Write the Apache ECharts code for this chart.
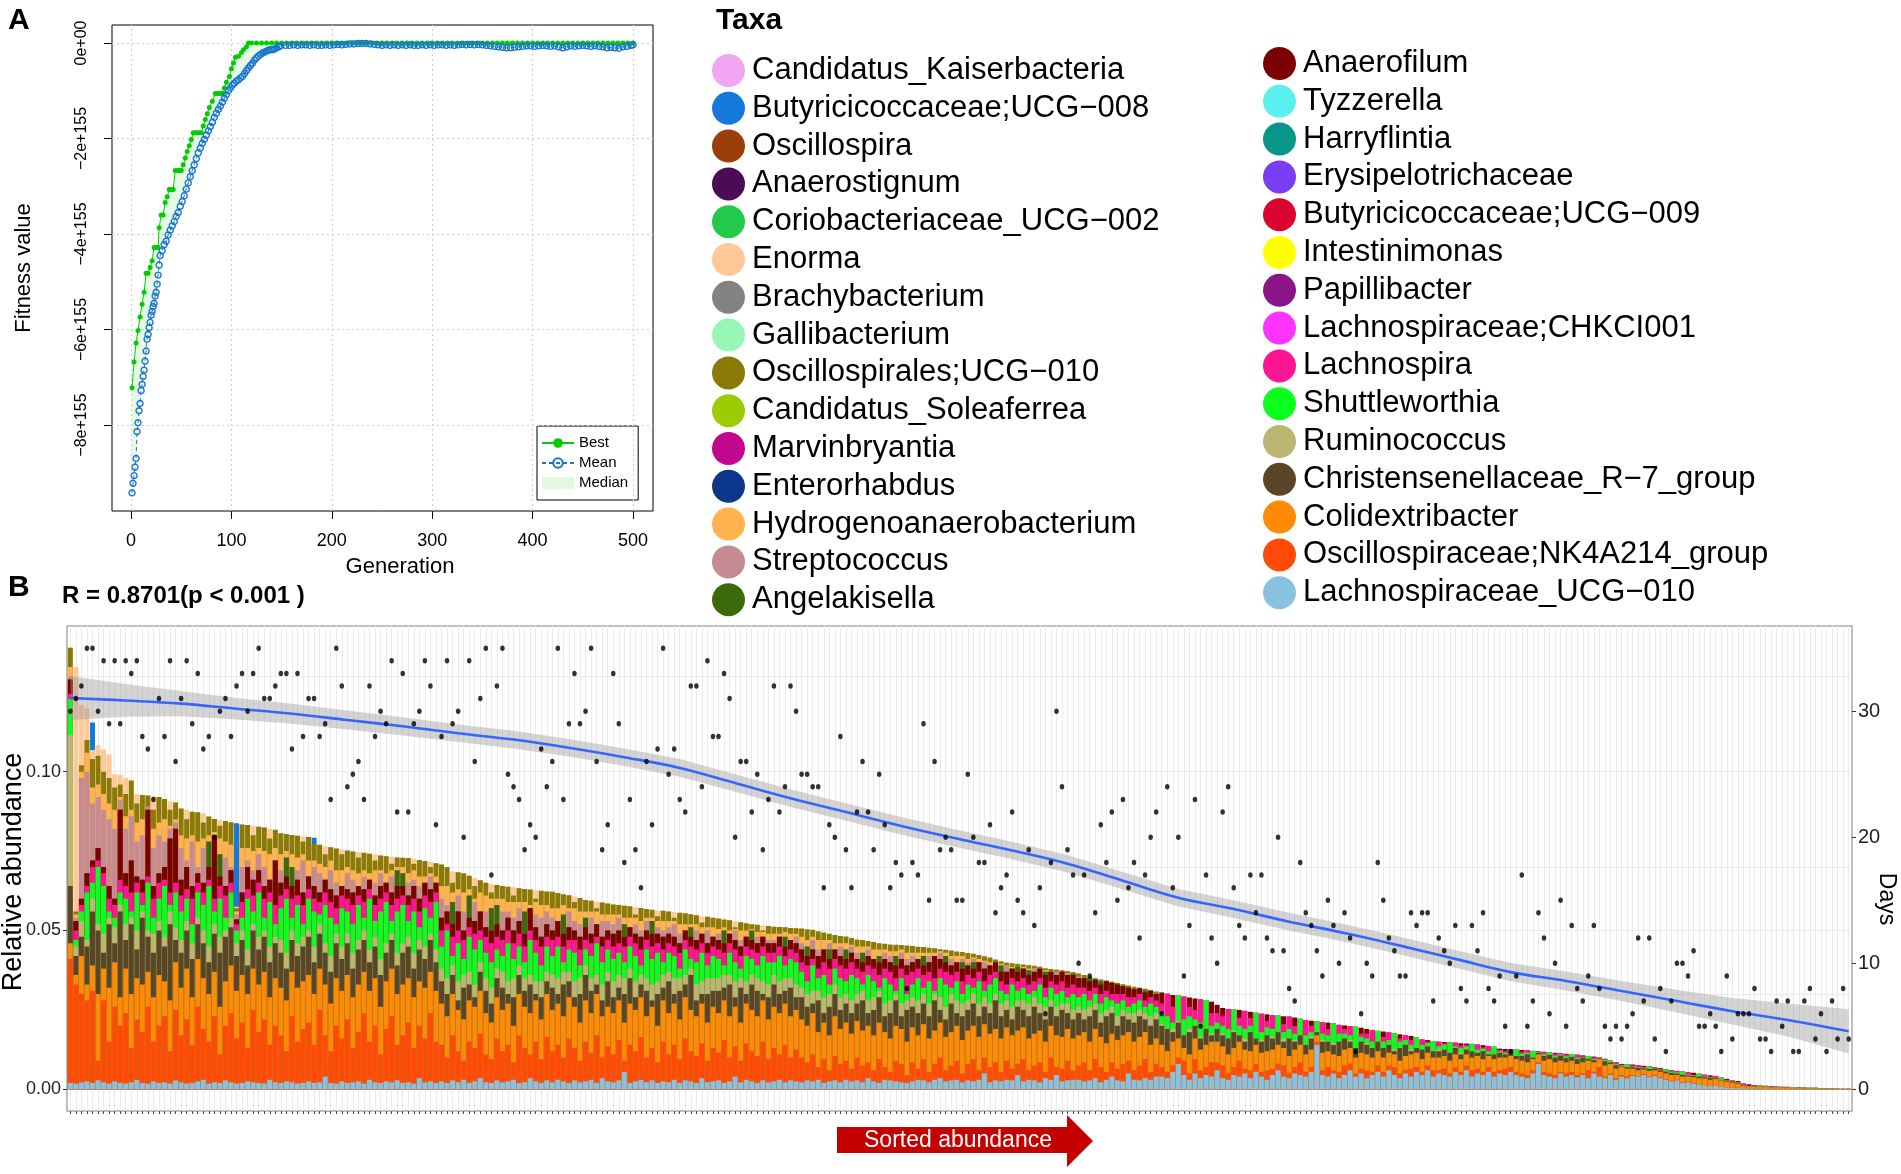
<!DOCTYPE html>
<html>
<head>
<meta charset="utf-8">
<title>GA fitness and sorted abundance</title>
<script src="https://cdn.jsdelivr.net/npm/echarts@6/dist/echarts.min.js"></script>
<style>
html, body { margin: 0; padding: 0; background: #fff; }
#main { width: 1901px; height: 1174px; }
</style>
</head>
<body>
<div id="main"></div>
<script>
// ---------- panel A: GA run (values in units of 1e155) ----------
var xTicksA = [0, 100, 200, 300, 400, 500];
var yTicksA = [0, -2, -4, -6, -8];

var bestPts = [
  [1,-7.22],[3,-6.68],[5,-6.28],[7,-6.02],[9,-5.74],[11,-5.47],[13,-5.22],[15,-4.82],[17,-4.82],[19,-4.70],
  [21,-4.56],[23,-4.28],[25,-4.28],[27,-4.28],[28,-3.87],[30,-3.60],[32,-3.60],[34,-3.34],[36,-3.22],[38,-3.07],
  [40,-3.07],[42,-3.07],[44,-2.67],[46,-2.67],[48,-2.67],[50,-2.67],[52,-2.55],[54,-2.41],[56,-2.27],[58,-2.15],
  [60,-2.02],[62,-1.88],[64,-1.88],[66,-1.88],[68,-1.88],[70,-1.88],[72,-1.74],[74,-1.60],[76,-1.48],[78,-1.35],
  [81,-1.22],[84,-1.06],[86,-1.06],[88,-1.06],[90,-1.06],[92,-1.06],[93,-0.94],[95,-0.82],[98,-0.70],[100,-0.54],
  [102,-0.42],[104,-0.30],[107,-0.28],[110,-0.20],[112,-0.14],[115,-0.08],[117,0],
  [120,0],[125,0],[130,0],[135,0],[140,0],[145,0],[150,0],[155,0],[160,0],[165,0],[170,0],[175,0],[180,0],
  [185,0],[190,0],[195,0],[200,0],[205,0],[210,0],[215,0],[220,0],[225,0],[230,0],[235,0],[240,0],[245,0],
  [250,0],[255,0],[260,0],[265,0],[270,0],[275,0],[280,0],[285,0],[290,0],[295,0],[300,0],[305,0],[310,0],
  [315,0],[320,0],[325,0],[330,0],[335,0],[340,0],[345,0],[350,0],[355,0],[360,0],[365,0],[370,0],[375,0],
  [380,0],[385,0],[390,0],[395,0],[400,0],[405,0],[410,0],[415,0],[420,0],[425,0],[430,0],[435,0],[440,0],
  [445,0],[450,0],[455,0],[460,0],[465,0],[470,0],[475,0],[480,0],[485,0],[490,0],[495,0],[500,0]
];

var meanPts = [
  [1,-9.42],[2,-9.22],[3,-9.06],[4,-8.88],[5,-8.70],[6,-8.14],[7,-7.95],[8,-7.70],[9,-7.55],[10,-7.28],
  [11,-7.15],[12,-6.98],[13,-6.85],[14,-6.66],[15,-6.45],[16,-6.20],[17,-6.10],[18,-5.96],[19,-5.85],[20,-5.70],
  [21,-5.62],[22,-5.52],[23,-5.45],[24,-5.30],[25,-5.22],[26,-5.05],[27,-4.86],[28,-4.65],[29,-4.45],
  [31,-4.35],[33,-4.22],[35,-4.15],[37,-4.02],[39,-3.92],[41,-3.83],[43,-3.74],[45,-3.63],[47,-3.55],[49,-3.42],
  [51,-3.32],[53,-3.20],[55,-3.06],[57,-2.93],[59,-2.80],[61,-2.67],[63,-2.55],[65,-2.42],[67,-2.30],[69,-2.20],
  [71,-2.10],[73,-2.02],[75,-1.93],[77,-1.84],[79,-1.75],[81,-1.66],[83,-1.56],[85,-1.47],[87,-1.39],[89,-1.32],
  [91,-1.24],[93,-1.16],[95,-1.08],[97,-1.00],[99,-0.94],[101,-0.88],[103,-0.84],[105,-0.80],[107,-0.77],[109,-0.73],
  [111,-0.70],[113,-0.64],[115,-0.58],[117,-0.52],[119,-0.47],[121,-0.42],[123,-0.36],[125,-0.31],[127,-0.27],[129,-0.24],
  [131,-0.21],[133,-0.19],[135,-0.17],[137,-0.15],[139,-0.14],[141,-0.14],[143,-0.13],[145,-0.10],[147,-0.08],[149,-0.06],
  [154,-0.05],[158,-0.05],[162,-0.04],[166,-0.05],[170,-0.04],[174,-0.04],[178,-0.05],[182,-0.04],[186,-0.05],[190,-0.05],
  [194,-0.04],[198,-0.05],[202,-0.04],[206,-0.03],[210,-0.04],[214,-0.03],[218,-0.02],[222,-0.02],[226,-0.01],[230,-0.01],
  [234,-0.01],[238,-0.02],[242,-0.03],[246,-0.04],[250,-0.05],[254,-0.04],[258,-0.05],[262,-0.04],[266,-0.05],[270,-0.04],
  [274,-0.05],[278,-0.04],[282,-0.05],[286,-0.05],[290,-0.04],[294,-0.05],[298,-0.04],[302,-0.05],[306,-0.04],[310,-0.04],
  [314,-0.05],[318,-0.04],[322,-0.05],[326,-0.04],[330,-0.03],[334,-0.04],[338,-0.03],[342,-0.04],[346,-0.03],[350,-0.04],
  [354,-0.05],[358,-0.06],[362,-0.07],[366,-0.08],[370,-0.09],[374,-0.10],[378,-0.10],[382,-0.09],[386,-0.08],[390,-0.07],
  [394,-0.06],[398,-0.06],[402,-0.07],[406,-0.06],[410,-0.05],[414,-0.06],[418,-0.07],[422,-0.06],[426,-0.08],[430,-0.10],
  [434,-0.08],[438,-0.06],[442,-0.07],[446,-0.06],[450,-0.05],[454,-0.06],[458,-0.07],[462,-0.06],[466,-0.07],[470,-0.08],
  [474,-0.10],[478,-0.09],[482,-0.10],[486,-0.11],[490,-0.08],[494,-0.07],[498,-0.05],[500,-0.04]
];

// ---------- panel B: samples sorted by abundance ----------
// sampling day of each sample (one point per bar)
var days = [
  30,31,32,35,35,30,34,29,34,29, 34,33,34,28,27,23,31,28,34,26, 31,34,29,33,27,28,20,30,31,28,
  32,33,30,33,35,31,31,32,33,33, 27,33,28,31,31,28,29,23,35,32, 24,25,26,23,32,28,30,29,34,22,
  33,22,29,30,34,32,21,28,34,29, 30,20,34,26,31,35,17,32,35,25, 24,23,19,21,20,27,24,26,35,23,
  29,33,29,30,35,26,19,21,33,29, 18,23,19,16,26,21,27,35,25,27, 23,22,32,32,24,34,28,28,33,31,
  20,26,26,22,25,19,23,32,22,24, 32,30,25,25,24,24,16,21,20,28, 19,16,22,26,22,19,25,21,16,18,
  17,8,18,17,29,15,26,19,20,19, 15,15,25,20,18,18,21,14,16,17, 22,15,14,19,13,16,6,18,30,24,
  19,17,10,17,9,14,21,18,22,15, 23,16,18,12,17,20,22,6,24,16, 20,9,13,23,5,17,12,10,22,24,
  16,13,12,17,14,17,12,11,20,11, 8,7,18,14,13,11,9,15,13,10, 14,12,3,6,10,9,18,15,12,11,
  9,9,14,13,14,14,7,12,11,10, 13,8,7,13,11,14,8,7,9,5, 3,9,17,5,7,14,12,6,10,15,
  5,13,8,7,9,13,8,5,4,5, 4,5,6,12,7,12,4,8,3,7, 10,10,9,11,5,5,6,5,3,9,
  4,6,6,6,8,4,4,3,7,5, 7,3,3,7,8,4,6,3,7,4, 8,4
];

// LOESS trend of days and its confidence band, read at every 10th bar
var smoothIdx = [0,10,20,30,40,50,60,70,80,90,100,110,120,130,140,150,160,170,180,190,200,210,220,230,240,250,260,270,280,290,300,310,321];
var smoothDays = [31.05,30.85,30.6,30.2,29.8,29.3,28.8,28.25,27.75,27.1,26.35,25.5,24.3,23.1,22.0,20.9,19.9,18.95,17.9,16.55,15.2,14.3,13.3,12.4,11.4,10.35,9.3,8.6,7.8,7.0,6.2,5.5,4.6];
var bandLo = [29.3,29.55,29.6,29.35,29.0,28.55,28.08,27.55,27.05,26.4,25.65,24.8,23.6,22.4,21.3,20.2,19.2,18.25,17.2,15.85,14.5,13.6,12.6,11.7,10.7,9.65,8.58,7.85,7.0,6.1,5.15,4.2,2.85];
var bandHi = [32.8,32.15,31.6,31.05,30.6,30.05,29.52,28.95,28.45,27.8,27.05,26.2,25.0,23.8,22.7,21.6,20.6,19.65,18.6,17.25,15.9,15.0,14.0,13.1,12.1,11.05,10.02,9.35,8.6,7.9,7.25,6.8,6.35];

// relative abundance, 1e-4 units: cumulative top of each taxon layer (bottom -> top)
var blueTop = [
  20,18,22,25,20,28,22,18,25,20, 18,22,30,20,18,25,20,22,18,28, 22,18,20,25,30,18,22,20,28,22,
  18,20,25,22,20,18,30,22,20,25, 22,18,20,25,20,22,40,20,18,25, 20,22,25,18,30,22,20,25,22,28,
  20,22,18,35,22,25,20,25,20,28, 22,30,20,25,35,22,20,28,22,25, 30,20,22,35,25,20,28,22,30,25,
  20,28,22,25,30,20,35,25,22,28, 55,20,25,30,22,28,20,25,22,30, 20,28,25,20,35,22,25,28,20,25,
  40,22,30,25,20,28,22,25,30,22, 28,25,22,28,25,30,20,25,28,22, 30,25,28,22,35,25,20,30,28,25,
  22,20,25,30,28,22,30,35,25,28, 30,22,28,25,30,50,22,28,25,30, 28,45,25,30,28,22,35,30,45,25,
  28,30,30,25,28,35,22,30,40,28, 25,50,30,28,35,30,40,40,35,55, 80,45,30,50,35,45,40,60,35,30,
  45,40,50,35,55,40,30,45,60,40, 35,50,45,40,55,140,45,40,50,35, 45,60,40,50,35,45,55,40,60,45,
  35,50,40,55,45,60,40,50,45,40, 55,45,60,40,50,45,55,40,50,45, 55,45,40,35,50,80,45,40,35,50,
  40,45,38,45,35,50,40,35,45,30, 40,35,42,40,45,38,42,35,30,25, 28,20,22,18,15,12,10,12,8,6,
  5,4,3,3,2,2,2,1,1,1, 1,1,1,1,1,1,0,0,0,0, 0,0
];
var nkTop = [
  410,330,300,280,310,90,280,150,260,200, 240,130,220,180,260,150,200,230,120,250, 170,220,140,260,190,150,230,110,200,240,
  160,210,130,250,180,220,140,200,170,120, 230,150,190,210,140,250,170,120,200,160, 220,130,180,240,150,200,110,190,230,140,
  170,210,130,200,160,240,150,140,100,170, 120,90,150,130,175,110,95,160,120,140, 85,170,130,110,150,95,165,120,140,100,
  160,130,90,150,115,170,100,135,110,155, 90,140,120,165,100,130,85,150,110,140, 95,160,120,105,145,90,130,115,155,100,
  135,90,145,120,105,150,95,130,110,140, 100,125,100,85,110,70,95,60,105,80, 90,65,100,75,85,60,95,70,55,90,
  80,45,85,65,95,55,80,100,60,75, 90,50,80,95,60,100,70,85,55,90, 65,80,95,60,75,85,55,100,70,65,
  90,60,75,85,60,95,70,55,85,65, 80,90,60,75,95,55,80,70,55,75, 100,90,50,95,60,70,85,85,75,50,
  70,90,65,60,80,55,60,65,80,75, 50,70,85,55,70,150,60,70,60,55, 75,80,50,65,60,55,75,55,75,70,
  50,60,65,70,55,75,60,60,65,50, 70,55,75,60,65,55,70,55,60,65, 70,55,50,45,60,85,55,50,45,55,
  50,55,45,50,60,55,70,40,50,35, 45,40,45,42,48,40,45,38,32,27, 30,22,24,20,16,13,11,13,9,7,
  6,5,3,3,2,2,2,1,1,1, 1,1,1,1,1,1,0,0,0,0, 0,0
];
var coliTop = [
  460,360,420,330,390,300,380,320,400,290, 380,300,350,330,370,290,360,340,280,400, 320,380,290,410,350,300,370,260,340,390,
  310,360,300,380,330,370,290,350,320,280, 370,320,340,360,300,380,330,270,350,310, 360,290,330,370,310,350,260,340,380,300,
  330,350,290,340,320,370,310,270,230,300, 250,220,280,260,310,240,210,290,250,270, 200,300,260,240,280,220,300,250,270,230,
  290,260,210,280,240,300,230,260,240,280, 210,270,250,290,230,260,200,280,240,270, 220,290,250,230,270,210,260,240,280,230,
  260,210,270,250,230,280,220,260,240,270, 230,250,220,200,240,180,210,170,230,190, 210,175,215,185,200,170,210,180,160,200,
  190,150,195,170,205,160,185,210,165,180, 200,155,185,200,165,205,175,190,160,195, 170,185,195,160,175,185,150,200,170,165,
  190,160,170,180,150,190,165,145,175,155, 170,180,150,165,180,140,160,140,120,150, 160,130,110,160,125,140,150,150,135,110,
  130,150,125,120,140,115,120,125,140,130, 105,125,140,110,125,170,115,120,110,105, 125,130,100,115,110,100,120,100,115,110,
  90,105,110,115,95,115,100,100,105,90, 110,95,110,100,105,95,105,95,100,100, 105,95,90,85,95,110,90,95,85,90,
  85,90,80,85,90,85,95,75,80,65, 70,65,65,60,62,58,60,55,50,45, 45,40,40,38,35,34,30,32,28,24,
  20,18,10,9,8,8,7,6,6,5, 5,4,4,3,3,3,2,2,2,1, 1,1
];
var chrTop = [
  640,420,480,450,560,500,430,520,460,560, 470,520,440,540,480,430,500,450,520,470, 430,500,410,520,460,400,490,430,480,510,
  420,470,390,500,440,480,400,460,430,380, 470,420,450,480,400,490,430,370,460,410, 460,380,440,470,400,450,360,430,470,390,
  430,450,380,440,410,470,400,340,300,360, 280,320,330,290,370,310,270,350,320,300, 290,360,310,330,300,290,340,320,300,330,
  340,290,300,360,310,330,280,340,290,320, 300,350,290,330,310,280,300,320,340,300, 310,330,360,280,300,300,310,310,320,330,
  290,320,300,330,310,300,290,330,300,310, 320,290,290,260,270,280,240,260,300,250, 270,240,270,280,240,250,290,230,240,280,
  230,250,260,240,270,230,280,250,220,270, 240,230,250,270,230,260,240,280,230,250, 220,260,250,230,260,240,220,260,230,250,
  240,220,240,220,230,250,210,230,240,200, 230,220,210,230,220,200,220,200,190,180, 210,170,180,200,160,190,170,190,170,160,
  180,170,150,180,160,150,170,160,180,150, 160,150,170,140,160,180,150,150,140,150, 160,150,130,150,140,130,150,130,140,120,
  130,140,120,130,125,135,120,120,125,115, 130,110,125,120,115,120,110,110,115,110, 120,105,105,110,100,115,105,108,100,106,
  98,102,95,100,96,92,98,88,85,76, 72,70,70,68,66,64,66,60,56,52, 50,46,44,42,40,38,36,35,30,27,
  22,21,12,9,9,8,8,6,6,5, 5,4,4,3,3,3,2,2,2,1, 1,1
];
var rumTop = [
  1115,450,530,470,600,520,490,540,510,580, 520,540,500,560,500,490,530,480,560,510, 470,530,460,540,500,450,520,480,500,540,
  460,500,440,520,480,500,450,480,470,430, 500,460,480,500,450,520,460,420,490,450, 490,430,470,500,440,480,410,460,490,430,
  460,480,430,470,450,490,440,380,350,390, 340,360,370,330,400,350,320,380,370,340, 350,390,350,360,340,340,370,360,350,370,
  370,340,350,390,350,360,330,370,340,360, 350,380,340,360,350,330,340,360,370,350, 350,360,380,330,340,350,350,350,360,360,
  340,350,340,360,350,340,330,360,340,350, 350,330,320,300,310,310,290,300,330,290, 300,280,300,310,280,290,310,270,280,300,
  270,280,290,280,300,270,300,290,260,300, 280,270,280,300,270,290,270,300,270,280, 260,280,280,270,290,270,260,280,260,270,
  270,250,260,250,260,270,240,250,260,230, 250,240,240,250,240,230,240,205,190,190, 215,170,190,200,165,190,175,190,175,160,
  185,170,160,180,160,155,170,165,180,160, 160,155,170,140,165,180,155,150,145,150, 160,155,130,150,145,130,150,130,140,125,
  130,140,125,130,125,135,120,125,125,115, 130,115,125,120,115,120,110,110,115,110, 120,105,105,110,100,115,105,108,100,106,
  98,102,95,100,96,92,98,88,85,76, 72,72,70,68,66,64,66,60,56,52, 50,46,44,42,40,38,36,35,30,27,
  22,21,12,9,9,8,8,6,6,5, 5,4,4,3,3,3,2,2,2,1, 1,1
];
var shutTop = [
  1230,470,560,620,650,700,640,560,540,620, 600,560,620,580,650,540,600,640,580,620, 560,600,520,620,580,640,560,600,540,620,
  500,540,600,560,620,540,590,520,570,600, 540,580,520,600,560,550,580,540,520,570, 560,520,580,540,600,530,560,590,530,560,
  580,530,560,510,570,540,590,450,500,420, 460,410,480,440,470,430,400,440,420,460, 410,450,400,470,430,390,450,420,450,400,
  440,430,390,440,420,460,400,440,410,430, 400,450,420,390,440,410,430,400,430,420, 380,440,410,400,430,390,420,410,390,430,
  400,380,420,410,390,420,400,400,420,390, 410,400,370,340,390,350,360,330,380,350, 340,360,350,330,360,340,320,350,330,310,
  350,300,330,350,320,340,310,350,330,320, 340,300,330,320,340,310,330,350,310,300, 330,310,320,300,310,330,290,320,300,310,
  290,300,290,300,280,300,270,290,280,270, 280,260,270,280,260,270,260,240,230,210, 295,220,230,220,210,281,200,210,200,190,
  251,200,190,200,241,180,195,190,232,180, 190,175,222,170,180,214,175,170,207,175, 175,170,197,165,160,150,184,150,155,176,
  150,155,140,163,140,145,152,135,140,148, 135,130,135,143,125,128,120,134,120,115, 122,125,112,115,121,118,110,117,106,110,
  104,111,100,102,105,96,99,92,91,80, 75,79,72,70,68,72,68,62,63,56, 54,56,46,44,49,40,38,36,37,28,
  24,22,13,10,10,12,9,7,9,6, 6,7,5,6,4,3,4,2,2,2, 1,1
];
var lachTop = [
  1245,500,580,640,700,720,680,600,580,660, 640,620,650,620,670,600,650,660,620,650, 610,630,600,650,620,660,600,640,610,650,
  520,590,630,610,650,600,620,580,610,630, 600,610,580,630,600,590,620,590,570,610, 600,580,610,590,630,580,600,620,580,600,
  610,580,600,560,610,590,620,500,520,480, 500,470,510,490,500,480,460,480,470,500, 460,490,450,500,470,450,480,470,480,450,
  470,470,440,470,460,480,450,470,450,460, 450,480,460,440,470,450,460,440,460,450, 430,470,450,440,460,430,450,440,430,460,
  440,420,450,440,430,450,430,430,450,420, 440,430,400,390,410,380,400,380,410,390, 380,400,380,370,390,380,360,380,370,350,
  380,360,370,380,360,370,350,380,370,360, 370,340,360,350,370,340,360,370,340,330, 350,340,350,330,340,350,320,340,330,340,
  320,330,320,320,310,320,300,310,300,300, 300,290,290,300,280,290,280,270,301,260, 295,292,260,250,283,281,240,240,230,253,
  251,225,247,225,241,238,215,234,232,205, 229,200,222,218,200,214,212,190,207,203, 190,199,197,175,175,187,184,165,179,176,
  160,171,155,163,157,150,152,150,145,148, 147,138,140,143,141,132,136,134,124,120, 126,125,118,123,121,119,118,117,112,114,
  110,111,109,104,105,100,100,95,91,86, 78,79,75,76,71,72,70,65,63,57, 58,56,54,46,49,46,40,42,37,30,
  28,23,18,12,13,12,11,10,9,8, 6,7,6,6,5,5,4,3,3,2, 2,2
];
var anaTop = [
  1290,530,600,680,720,760,700,640,600,880, 680,720,670,660,880,640,680,700,790,820, 660,700,640,680,650,700,800,670,640,690,
  535,620,700,660,690,640,660,720,650,670, 640,660,620,670,640,620,660,630,610,640, 630,620,640,630,660,610,640,650,620,640,
  640,610,640,600,650,630,650,540,560,520, 560,500,540,530,560,510,500,520,500,540, 500,530,490,570,510,480,520,500,530,490,
  510,500,480,510,490,520,480,500,490,500, 480,510,490,480,500,490,490,480,490,480, 460,500,480,470,490,460,480,470,460,490,
  470,450,480,470,460,480,460,460,480,450, 470,460,440,420,440,420,440,410,440,420, 410,430,410,400,420,410,400,410,400,390,
  410,390,400,410,390,400,420,410,400,390, 400,380,390,380,400,380,390,400,370,370, 380,370,380,360,370,380,360,370,360,370,
  360,360,350,350,340,345,330,340,335,330, 325,320,315,318,305,310,300,305,301,297, 295,292,289,286,283,281,276,266,256,253,
  251,250,247,244,241,238,236,234,232,230, 229,226,222,218,216,214,212,210,207,203, 201,199,197,194,190,187,184,182,179,176,
  173,171,168,163,157,155,152,150,149,148, 147,145,144,143,141,139,136,134,128,127, 126,125,124,123,121,120,118,117,115,114,
  112,111,109,107,105,103,100,96,91,86, 80,79,78,76,74,72,70,67,63,60, 58,56,54,52,49,46,44,42,37,33,
  28,26,18,16,13,12,11,10,9,8, 8,7,6,6,5,5,4,3,3,2, 2,2
];
var angTop = [
  1290,530,600,680,720,760,700,640,600,880, 680,720,670,660,880,640,680,700,790,820, 660,700,640,680,650,780,800,740,640,690,
  535,620,700,660,690,640,660,720,650,730, 700,660,620,670,640,620,660,630,610,640, 630,620,640,630,660,610,640,650,620,690,
  680,610,640,600,650,630,650,540,560,590, 560,500,610,530,560,510,570,580,500,540, 500,530,560,570,510,480,520,500,530,550,
  510,500,480,540,490,520,480,500,490,500, 520,510,490,480,500,530,490,480,490,480, 460,500,510,470,490,460,480,470,500,490,
  470,450,480,500,460,480,460,460,480,480, 470,460,440,450,440,420,440,440,440,420, 440,430,410,430,420,410,420,410,400,420,
  410,390,400,410,420,400,420,410,420,390, 400,400,390,400,400,380,390,400,390,370, 380,385,380,375,370,380,370,370,360,370,
  360,365,350,350,350,345,340,340,335,330, 325,320,315,318,312,310,300
];
var strTop = [
  1300,540,980,1000,900,920,880,850,820,910, 820,860,780,800,890,760,800,780,820,840, 760,720,780,700,760,780,800,740,730,700,
  550,700,720,690,740,700,660,720,690,730, 700,690,720,670,700,680,660,690,650,640, 680,660,640,670,660,650,680,650,670,690,
  680,650,660,640,650,670,650,600,580,590, 610,560,610,590,560,560,570,580,560,560, 540,570,560,570,550,540,560,540,530,550,
  560,530,520,540,540,520,530,530,520,540, 520,510,520,500,530,530,510,500,510,520, 490,500,510,500,490,500,480,490,500,490,
  500,470,480,500,480,480,470,470,480,480, 470,480,460,450,470,440,440,460,440,450, 440,450,430,430,440,410,420,430,420,420,
  430,410,420,410,420,420,420,430,420,410, 400,410,400,410,400,400,390,400,390,390, 380,385,380,375,380,380,370,370,370,370,
  365,365,355,350,350,345,340,340,335,330, 325,320,315,318,312,310,300
];
var hydTop = [
  1330,550,1000,1060,950,960,930,900,880,920, 860,880,840,850,890,820,840,850,830,850, 800,790,800,780,790,800,810,790,780,770,
  560,760,760,750,760,750,740,760,740,750, 740,730,740,720,720,710,700,720,690,690, 700,690,680,690,680,690,690,680,690,700,
  700,680,690,670,670,680,670,640,640,620, 630,620,630,600,620,610,600,600,600,590, 590,590,590,580,590,580,580,570,570,580,
  570,570,560,560,560,560,550,550,550,550, 540,540,540,530,540,540,530,530,530,530, 520,520,520,520,510,510,510,505,510,500,
  505,500,500,505,495,495,490,490,490,495, 490,490,480,470,480,470,470,470,460,460, 460,455,450,450,450,440,440,440,435,435,
  440,430,430,430,430,430,430,435,430,420, 420,420,410,415,410,405,400,400,395,390, 385,385,385,380,380,380,375,370,370,370,
  365,365
];
var oscTop = [
  1390,560,1020,1100,1040,1050,1000,980,950,960, 930,972,900,927,925,880,920,914,880,903, 884,850,874,872,840,859,851,830,845,841,
  570,834,832,800,827,824,790,817,806,804, 801,798,780,794,772,770,740,762,758,740, 752,749,730,745,742,720,736,734,710,730,
  729,728,710,722,719,700,712,708,700,650, 683,680,672,640,658,650,620,643,640,638, 610,633,631,629,600,625,623,622,618,614,
  611,590,602,596,594,570,588,585,582,580, 578,576,550,571,568,565,545,562,560,540, 556,554,551,548,525,543,540,538,535,532,
  510,526,523,520,518,500,514,512,511,510, 508,507,506,504,502,498,494,490,486,483, 481,476,472,470,467,464,460,458,456,455,
  454,453,451,449,448,446,444,441,439,437, 434,432,429,427,423,419,415,409,403,399, 397,395,393,391,389,386,381,379,377,375,
  372,369,365,360,355,350,346,343,339,335, 331,327,323,320,317,313,308
];
var enormaTop = [
  1390,1330,1210,1200,1068,1084,1070,1055,992,990, 980,972,929,927,925,922,920,914,906,903, 884,880,874,872,869,859,851,848,845,841,
  575,834,832,830,827,824,820,817,806,804, 801,798,796,794,772,770,765,762,758,755, 752,749,747,745,742,739,736,734,732,730,
  729,728,726,722,719,716,712,708,700,686, 683,680,672,665,658,650,646,643,640,638, 636,633,631,629,627,625,623,622,618,614,
  611,607,602,596,594,591,588,585,582,580, 578,576,573,571,568,565,563,562,560,558, 556,554,551,548,545,543,540,538,535,532,
  529,526,523,520,518,516,514,512,511,510, 508,507
];
var ucg8Top = { 4: 1155, 30: 838, 44: 792 };

// thin layers sitting on top of Lachnospira (thickness, 1e-4 units)
var chkThick = {0:15,2:10,6:40,7:12,11:30,14:25,17:50,18:10,22:35,26:15,28:40,29:12,33:25,36:30,37:10,42:45,45:20,47:30,51:15,53:35,54:10,58:40,62:15,64:30,67:20,69:25,73:15,75:50,76:12,81:30,83:60,87:20,89:35,90:10,95:25,98:40,99:15,104:30,106:15,110:45,114:20,116:25,117:10,122:15,125:30,126:20,131:40,135:15,137:30,140:60,141:10,146:35,149:25,152:40,156:15,158:30,161:50,162:15,167:30,170:15,173:35,177:25,179:20,182:40,186:15,188:20,189:12,194:25,197:30,199:20,203:35,207:15,216:15,221:15,227:15,230:10,234:15,240:10,248:4,251:4};
var yellowThick = {0:12,3:10,5:15,8:8,10:12,13:20,15:10,16:8,20:15,23:10,24:30,27:12,30:10,32:15,35:40,38:12,40:10,43:15,46:10,49:20,52:12,56:10,57:30,60:12,63:15,65:50,68:10,71:15,74:12,77:25,79:10,80:40,84:12,85:10,88:15,91:10,93:20,96:12,100:15,102:10,105:20,108:12,111:30,112:10,115:15,118:10,120:20,123:12,127:15,129:10,132:12,136:15,139:20,144:12,147:30,150:10,154:15,157:12,160:20,165:10,168:15,171:12,174:25,180:10,184:15,190:12,195:10};
var redThick = {1:15,3:20,4:12,8:25,9:10,12:20,14:15,19:25,21:12,25:20,27:15,31:30,34:12,36:20,40:25,41:10,44:20,49:15,50:25,53:12,56:20,59:15,61:25,64:12,66:20,71:15,73:25,78:12,79:20,82:15,86:30,88:12,91:20,95:15,97:25,101:12,103:20,107:15,109:25,113:12,115:20,119:15,121:25,124:12,128:20,130:15,133:25,137:12,139:20,143:15,145:25,148:12,152:20,154:15,157:25,161:12,163:20,167:8,169:25,172:12,176:20,178:15,181:25,185:12,187:20,190:15,193:20,196:12,208:15,213:10,219:12,233:10};
var violetThick = {24:15,55:12,83:50,105:40,119:20,144:35,168:35,186:20};
var cyanThick = {58:50,63:30,66:60,70:60,122:25,150:20};

var taxaCol1 = ['Candidatus_Kaiserbacteria','Butyricicoccaceae;UCG\u2212008','Oscillospira','Anaerostignum','Coriobacteriaceae_UCG\u2212002','Enorma','Brachybacterium','Gallibacterium','Oscillospirales;UCG\u2212010','Candidatus_Soleaferrea','Marvinbryantia','Enterorhabdus','Hydrogenoanaerobacterium','Streptococcus','Angelakisella'];
var taxaCol2 = ['Anaerofilum','Tyzzerella','Harryflintia','Erysipelotrichaceae','Butyricicoccaceae;UCG\u2212009','Intestinimonas','Papillibacter','Lachnospiraceae;CHKCI001','Lachnospira','Shuttleworthia','Ruminococcus','Christensenellaceae_R\u22127_group','Colidextribacter','Oscillospiraceae;NK4A214_group','Lachnospiraceae_UCG\u2212010'];
var taxaColors = ['#F0A6F2','#1479DB','#9B3F08','#4B0B56','#22C94A','#FFC898','#838383','#98F7B7','#8C7A06','#9CCC04','#C0078E','#0B368A','#FFB24D','#C68A93','#3C6A0A',
                  '#7C0000','#5BEFF0','#079689','#7A3DF4','#DA0430','#FFFF00','#8B1489','#FF33FF','#FF1493','#0AFF1E','#BDB572','#5A4626','#FF8A06','#FF4A08','#88C2DF'];

// ---------- build ----------
var FONT = "'Liberation Sans', Arial, Helvetica, sans-serif";
var U = 1e4;
var allTaxa = taxaCol1.concat(taxaCol2);
var colorOf = {};
for (var t = 0; t < allTaxa.length; t++) colorOf[allTaxa[t]] = taxaColors[t];

function col(arr) {
  var out = [];
  for (var i = 0; i < arr.length; i++) out.push([i, arr[i] / U]);
  return out;
}
function sparse(obj) {
  var out = [];
  for (var i = 0; i < days.length; i++) out.push([i, (obj[i] || 0) / U]);
  return out;
}
function points(obj) {
  var out = [];
  for (var k in obj) out.push([+k, obj[k] / U]);
  return out;
}
function layer(name, data, stack) {
  var s = {
    type: 'bar', name: name, xAxisIndex: 1, yAxisIndex: 1, data: data,
    barWidth: 5, barGap: '-100%', z: 10, silent: true, animation: false,
    itemStyle: { color: colorOf[name] }
  };
  if (stack) s.stack = stack;
  return s;
}

var series = [];

// panel A grid lines
var gridLinesA = [];
xTicksA.forEach(function (g) { gridLinesA.push({ xAxis: g }); });
yTicksA.forEach(function (v) { gridLinesA.push({ yAxis: v }); });
series.push({
  type: 'line', xAxisIndex: 0, yAxisIndex: 0, data: [], z: 0, silent: true,
  markLine: { silent: true, symbol: 'none', animation: false, label: { show: false },
    lineStyle: { color: '#cfcfcf', type: [2, 3], width: 1 }, data: gridLinesA }
});
series.push({
  type: 'custom', name: 'Median', xAxisIndex: 0, yAxisIndex: 0, z: 6, silent: true,
  data: [[0, 0]], itemStyle: { color: 'rgba(0,205,0,0.12)' },
  renderItem: function (params, api) {
    var pts = [];
    for (var i = 0; i < bestPts.length; i++) pts.push(api.coord(bestPts[i]));
    for (var j = meanPts.length - 1; j >= 0; j--) pts.push(api.coord(meanPts[j]));
    return { type: 'polygon', shape: { points: pts }, style: { fill: 'rgba(0,205,0,0.10)' } };
  }
});
series.push({
  type: 'line', name: 'Best', xAxisIndex: 0, yAxisIndex: 0, data: bestPts, z: 7, silent: true,
  symbol: 'circle', symbolSize: 5, showAllSymbol: true,
  lineStyle: { color: '#00CD00', width: 1 }, itemStyle: { color: '#00CD00', borderWidth: 0 }
});
series.push({
  type: 'line', name: 'Mean', xAxisIndex: 0, yAxisIndex: 0, data: meanPts, z: 8, silent: true,
  symbol: 'circle', symbolSize: 6, showAllSymbol: true,
  lineStyle: { color: '#1874CD', width: 1, type: [4, 3] },
  itemStyle: { color: 'rgba(255,255,255,0)', borderColor: '#1874CD', borderWidth: 1.4 }
});

// panel B grid lines
var gridLinesB = [];
[0, 0.025, 0.05, 0.075, 0.1, 0.125].forEach(function (v) { gridLinesB.push({ yAxis: v }); });
for (var i = 0; i < days.length; i++) gridLinesB.push({ xAxis: i });
series.push({
  type: 'line', xAxisIndex: 1, yAxisIndex: 1, data: [], z: 0, silent: true,
  markLine: { silent: true, symbol: 'none', animation: false, label: { show: false },
    lineStyle: { color: '#ebebeb', type: 'solid', width: 1 }, data: gridLinesB }
});

// stacked bars, drawn back (top taxa) to front (bottom taxa)
series.push(layer('Candidatus_Kaiserbacteria', []));
series.push(layer('Butyricicoccaceae;UCG\u2212008', points(ucg8Top)));
series.push(layer('Oscillospira', []));
series.push(layer('Anaerostignum', []));
series.push(layer('Coriobacteriaceae_UCG\u2212002', []));
series.push(layer('Enorma', col(enormaTop)));
series.push(layer('Brachybacterium', []));
series.push(layer('Gallibacterium', []));
series.push(layer('Oscillospirales;UCG\u2212010', col(oscTop)));
series.push(layer('Candidatus_Soleaferrea', []));
series.push(layer('Marvinbryantia', []));
series.push(layer('Enterorhabdus', []));
series.push(layer('Hydrogenoanaerobacterium', col(hydTop)));
series.push(layer('Streptococcus', col(strTop)));
series.push(layer('Angelakisella', col(angTop)));
series.push(layer('Anaerofilum', col(anaTop)));
var base = layer('base', col(lachTop), 'thin');
base.itemStyle = { color: 'rgba(0,0,0,0)' };
series.push(base);
series.push(layer('Lachnospiraceae;CHKCI001', sparse(chkThick), 'thin'));
series.push(layer('Papillibacter', []));
series.push(layer('Intestinimonas', sparse(yellowThick), 'thin'));
series.push(layer('Butyricicoccaceae;UCG\u2212009', sparse(redThick), 'thin'));
series.push(layer('Erysipelotrichaceae', sparse(violetThick), 'thin'));
series.push(layer('Harryflintia', []));
series.push(layer('Tyzzerella', sparse(cyanThick), 'thin'));
series.push(layer('Lachnospira', col(lachTop)));
series.push(layer('Shuttleworthia', col(shutTop)));
series.push(layer('Ruminococcus', col(rumTop)));
series.push(layer('Christensenellaceae_R\u22127_group', col(chrTop)));
series.push(layer('Colidextribacter', col(coliTop)));
series.push(layer('Oscillospiraceae;NK4A214_group', col(nkTop)));
series.push(layer('Lachnospiraceae_UCG\u2212010', col(blueTop)));

// smooth trend of days
series.push({
  type: 'custom', xAxisIndex: 1, yAxisIndex: 2, z: 11, silent: true, data: [[0, 0]],
  renderItem: function (params, api) {
    var pts = [];
    for (var i = 0; i < smoothIdx.length; i++) pts.push(api.coord([smoothIdx[i], bandHi[i]]));
    for (var j = smoothIdx.length - 1; j >= 0; j--) pts.push(api.coord([smoothIdx[j], bandLo[j]]));
    return { type: 'polygon', shape: { points: pts }, style: { fill: 'rgba(153,153,153,0.42)' } };
  }
});
var trend = [];
for (var s = 0; s < smoothIdx.length; s++) trend.push([smoothIdx[s], smoothDays[s]]);
series.push({
  type: 'line', xAxisIndex: 1, yAxisIndex: 2, data: trend, smooth: 0.4, z: 12, silent: true,
  symbol: 'none', lineStyle: { color: '#3366FF', width: 2.6 }
});
var dayPts = [];
for (var d = 0; d < days.length; d++) dayPts.push([d, days[d]]);
series.push({
  type: 'scatter', xAxisIndex: 1, yAxisIndex: 2, data: dayPts, z: 13, silent: true,
  symbol: 'circle', symbolSize: [4.5, 5.5], itemStyle: { color: '#000' }
});

var barTicks = [];
for (var b = 0; b < days.length; b++) barTicks.push(b);

function legendCol(names, left, top) {
  return {
    orient: 'vertical', left: left, top: top, icon: 'circle', itemWidth: 33, itemHeight: 33,
    itemGap: 4.8, selectedMode: false, data: names,
    textStyle: { fontSize: 31, lineHeight: 33, color: '#000', fontFamily: FONT, padding: [0, 0, 0, 2] }
  };
}

var option = {
  animation: false,
  backgroundColor: '#fff',
  textStyle: { fontFamily: FONT },
  legend: [
    {
      left: 537, top: 426, orient: 'vertical', selectedMode: false,
      borderColor: '#000', borderWidth: 1, padding: [8, 10, 8, 4], itemGap: 2,
      itemWidth: 32, itemHeight: 12,
      textStyle: { fontSize: 15, lineHeight: 18, color: '#000', fontFamily: FONT },
      data: [{ name: 'Best' }, { name: 'Mean' }, { name: 'Median', icon: 'rect' }]
    },
    legendCol(taxaCol1, 707, 49),
    legendCol(taxaCol2, 1258, 42)
  ],
  grid: [
    { left: 112, top: 25, width: 541, height: 486, show: true, borderColor: '#000', borderWidth: 1, backgroundColor: 'transparent' },
    { left: 67, top: 626, width: 1785, height: 485, show: true, borderColor: '#ababab', borderWidth: 1.5, backgroundColor: 'transparent' }
  ],
  xAxis: [
    {
      type: 'value', gridIndex: 0, min: -18.96, max: 519.96,
      axisLine: { show: false, onZero: false }, splitLine: { show: false },
      axisTick: { show: true, length: 8, customValues: xTicksA, lineStyle: { color: '#000' } },
      axisLabel: { customValues: xTicksA, fontSize: 18, color: '#000', margin: 21 }
    },
    {
      type: 'value', gridIndex: 1, min: -0.6, max: 321.6,
      axisLine: { show: false, onZero: false }, splitLine: { show: false },
      axisTick: { show: true, length: 3, customValues: barTicks, lineStyle: { color: '#444' } },
      axisLabel: { show: false }
    }
  ],
  yAxis: [
    {
      type: 'value', gridIndex: 0, min: -9.8, max: 0.377,
      axisLine: { show: false, onZero: false }, splitLine: { show: false },
      axisTick: { show: true, length: 8, customValues: yTicksA, lineStyle: { color: '#000' } },
      axisLabel: {
        customValues: yTicksA, fontSize: 16, color: '#000', rotate: 90, margin: 22,
        formatter: function (v) { return v === 0 ? '0e+00' : '\u2212' + Math.abs(v) + 'e+155'; }
      }
    },
    {
      type: 'value', gridIndex: 1, min: -0.00683, max: 0.14587,
      axisLine: { show: false, onZero: false }, splitLine: { show: false },
      axisTick: { show: true, length: 4, customValues: [0, 0.05, 0.1], lineStyle: { color: '#333' } },
      axisLabel: { customValues: [0, 0.05, 0.1], fontSize: 18, color: '#222', margin: 6,
        formatter: function (v) { return v.toFixed(2); } }
    },
    {
      type: 'value', gridIndex: 1, position: 'right', min: -1.72, max: 36.76,
      axisLine: { show: false, onZero: false }, splitLine: { show: false },
      axisTick: { show: true, length: 4, customValues: [0, 10, 20, 30], lineStyle: { color: '#333' } },
      axisLabel: { customValues: [0, 10, 20, 30], fontSize: 20, color: '#222', margin: 6 }
    }
  ],
  graphic: [
    { type: 'text', x: 8, y: 21, style: { text: 'A', font: 'bold 30px ' + FONT, fill: '#000', verticalAlign: 'middle', textVerticalAlign: 'middle' } },
    { type: 'text', x: 8, y: 588, style: { text: 'B', font: 'bold 30px ' + FONT, fill: '#000', verticalAlign: 'middle', textVerticalAlign: 'middle' } },
    { type: 'text', x: 716, y: 21, style: { text: 'Taxa', font: 'bold 30px ' + FONT, fill: '#000', verticalAlign: 'middle', textVerticalAlign: 'middle' } },
    { type: 'text', x: 24, y: 268, rotation: Math.PI / 2,
      style: { text: 'Fitness value', font: '22px ' + FONT, fill: '#000', align: 'center', textAlign: 'center', verticalAlign: 'middle', textVerticalAlign: 'middle' } },
    { type: 'text', x: 400, y: 567,
      style: { text: 'Generation', font: '22px ' + FONT, fill: '#000', align: 'center', textAlign: 'center', verticalAlign: 'middle', textVerticalAlign: 'middle' } },
    { type: 'text', x: 62, y: 596,
      style: { text: 'R = 0.8701(p < 0.001 )', font: 'bold 24px ' + FONT, fill: '#000', verticalAlign: 'middle', textVerticalAlign: 'middle' } },
    { type: 'text', x: 14, y: 872, rotation: Math.PI / 2,
      style: { text: 'Relative abundance', font: '27px ' + FONT, fill: '#000', align: 'center', textAlign: 'center', verticalAlign: 'middle', textVerticalAlign: 'middle' } },
    { type: 'text', x: 1886, y: 899, rotation: -Math.PI / 2,
      style: { text: 'Days', font: '23px ' + FONT, fill: '#000', align: 'center', textAlign: 'center', verticalAlign: 'middle', textVerticalAlign: 'middle' } },
    { type: 'polygon',
      shape: { points: [[837, 1127], [1067, 1127], [1067, 1115], [1093, 1141], [1067, 1167], [1067, 1153], [837, 1153]] },
      style: { fill: '#C40000' } },
    { type: 'text', x: 958, y: 1141,
      style: { text: 'Sorted abundance', font: '23px ' + FONT, fill: '#fff', align: 'center', textAlign: 'center', verticalAlign: 'middle', textVerticalAlign: 'middle' } }
  ],
  series: series
};

var myChart = echarts.init(document.getElementById('main'));
myChart.setOption(option);
</script>
</body>
</html>
